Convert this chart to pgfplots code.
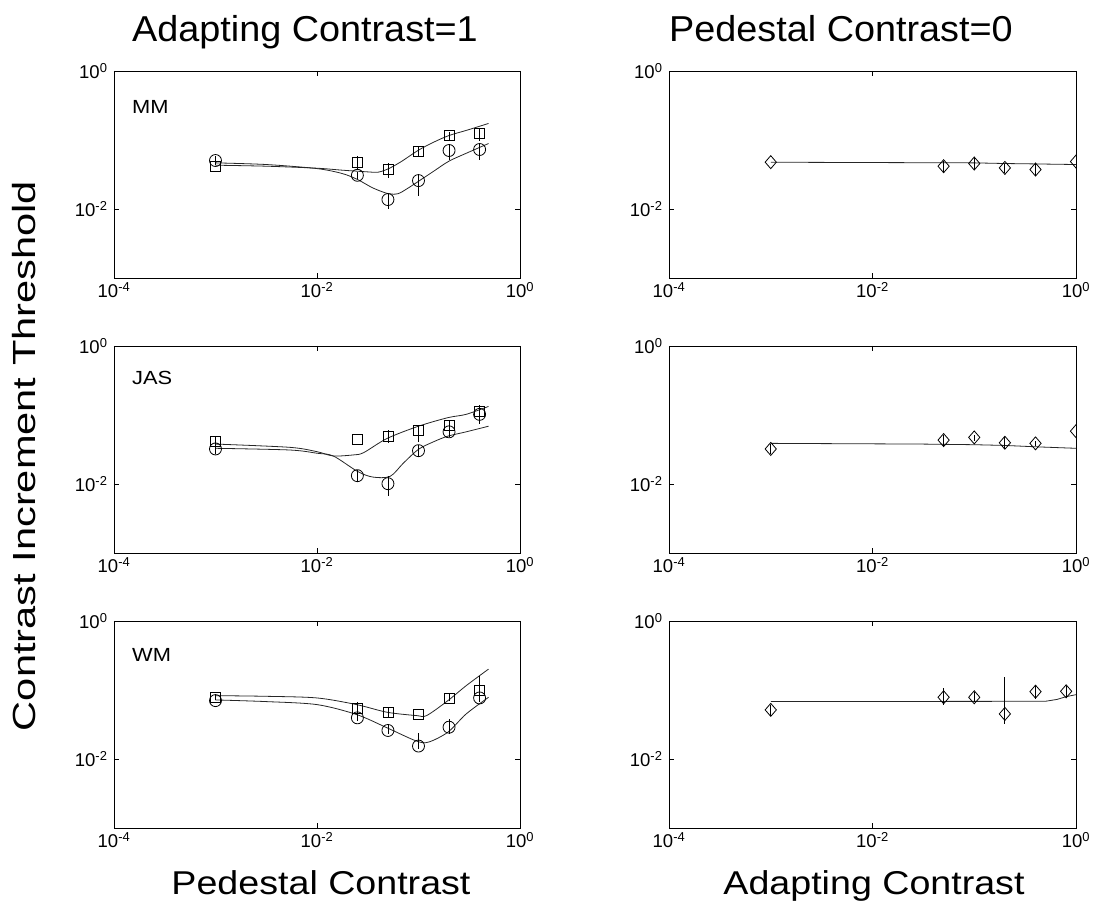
\documentclass[border=0pt]{standalone}
\usepackage{fontspec}
\setmainfont{Liberation Sans}
\usepackage{graphicx}
\usepackage{pgfplots}
\usepackage{pgfplotstable}
\pgfplotsset{compat=1.18}
\newcommand{\tlf}{\fontsize{18.5}{22}\selectfont}

% ---------- MM ----------
\pgfplotstableread{
x y lo hi
0.001 0.0417 0.0417 0.0417
0.025 0.0477 0.0373 0.0595
0.05 0.0381 0.0282 0.0466
0.1 0.0673 0.0569 0.0813
0.2 0.116 0.0995 0.130
0.4 0.124 0.0962 0.1453
}\MMsq
\pgfplotstableread{
x y lo hi
0.001 0.0504 0.0441 0.0582
0.025 0.0308 0.0275 0.0345
0.05 0.0137 0.0101 0.0167
0.1 0.0258 0.0153 0.0315
0.2 0.0704 0.0521 0.0860
0.4 0.0728 0.0509 0.0910
}\MMci
\pgfplotstableread{
x y
0.001 0.0431
0.003162 0.0417
0.01 0.0390
0.01778 0.0365
0.03162 0.0345
0.03981 0.0341
0.05012 0.0381
0.06607 0.0476
0.1 0.0712
0.1413 0.0930
0.1995 0.116
0.302 0.139
0.49 0.1737
}\MMsqfit
\pgfplotstableread{
x y
0.001 0.0466
0.003162 0.0441
0.01 0.0385
0.01778 0.0326
0.02512 0.0267
0.03548 0.0202
0.05012 0.0167
0.0631 0.0167
0.07943 0.0202
0.1 0.0252
0.1413 0.0353
0.1995 0.0493
0.302 0.0651
0.49 0.0889
}\MMcifit
% ---------- JAS ----------
\pgfplotstableread{
x y lo hi
0.001 0.0410 0.038 0.048
0.025 0.0443 0.0443 0.0443
0.05 0.0494 0.0388 0.0602
0.1 0.0589 0.0410 0.0711
0.2 0.0711 0.0602 0.0820
0.4 0.1129 0.0857 0.1376
}\JASsq
\pgfplotstableread{
x y lo hi
0.001 0.0322 0.0273 0.0379
0.025 0.0132 0.0109 0.0157
0.05 0.0101 0.00665 0.0129
0.1 0.0304 0.0249 0.0367
0.2 0.0570 0.0483 0.0711
0.4 0.1022 0.0735 0.1331
}\JASci
\pgfplotstableread{
x y
0.001 0.0379
0.00537 0.0340
0.01 0.0294
0.01445 0.0255
0.02291 0.0264
0.02884 0.0285
0.0490 0.0457
0.1 0.0688
0.195 0.0915
0.295 0.1022
0.49 0.1331
}\JASsqfit
\pgfplotstableread{
x y
0.001 0.0329
0.00537 0.0311
0.01 0.0279
0.01445 0.0255
0.0251 0.0152
0.03548 0.0126
0.0525 0.0129
0.0708 0.0200
0.1 0.0318
0.1413 0.0410
0.195 0.0494
0.295 0.0570
0.49 0.0688
}\JAScifit
% ---------- WM ----------
\pgfplotstableread{
x y lo hi
0.001 0.0784 0.0718 0.0876
0.025 0.0550 0.0441 0.0664
0.05 0.0466 0.0395 0.0562
0.1 0.0441 0.0441 0.0441
0.2 0.0767 0.0686 0.0876
0.4 0.1000 0.0828 0.161
}\WMsq
\pgfplotstableread{
x y lo hi
0.001 0.0702 0.0702 0.0702
0.025 0.0395 0.0361 0.0476
0.05 0.0259 0.0227 0.0316
0.1 0.0154 0.0141 0.0237
0.2 0.0289 0.0227 0.0382
0.4 0.0767 0.0664 0.0957
}\WMci
\pgfplotstableread{
x y
0.001 0.0828
0.003162 0.0810
0.01 0.0767
0.02455 0.0614
0.0490 0.0476
0.0955 0.0426
0.1202 0.0426
0.195 0.0702
0.295 0.1155
0.49 0.2009
}\WMsqfit
\pgfplotstableread{
x y
0.001 0.0718
0.003162 0.0679
0.01 0.0614
0.02455 0.0441
0.0490 0.0283
0.0955 0.0182
0.1259 0.0176
0.195 0.0245
0.295 0.0450
0.49 0.0784
}\WMcifit
% ---------- right column ----------
\pgfplotstableread{
x y lo hi
0.001 0.0477 0.0477 0.0477
0.05 0.0417 0.0333 0.0493
0.1 0.0456 0.0385 0.0551
0.2 0.0394 0.0333 0.0456
0.4 0.0373 0.0305 0.0466
1.0 0.0487 0.0487 0.0487
}\MMad
\pgfplotstableread{
x y
0.001 0.0476
0.1 0.0466
0.2 0.0456
0.35 0.0451
1 0.0441
}\MMadfit
\pgfplotstableread{
x y lo hi
0.001 0.0322 0.0273 0.0379
0.05 0.0433 0.0355 0.0511
0.1 0.0473 0.0420 0.0520
0.2 0.0396 0.0318 0.0483
0.4 0.0388 0.0355 0.0420
1.0 0.0583 0.0583 0.0583
}\JASad
\pgfplotstableread{
x y
0.001 0.0388
0.03 0.0379
0.1 0.0371
0.2 0.0362
0.4 0.0346
1 0.0329
}\JASadfit
\pgfplotstableread{
x y lo hi
0.001 0.0515 0.0426 0.0614
0.05 0.0784 0.0614 0.1069
0.1 0.0784 0.0664 0.0925
0.2 0.0450 0.0323 0.1557
0.4 0.0946 0.0742 0.1155
0.8 0.0957 0.0767 0.1155
}\WMad
\pgfplotstableread{
x y
0.001 0.0679
0.5 0.0686
0.65 0.0730
0.8 0.0800
1 0.0856
}\WMadfit

\pgfplotsset{
    scale only axis, height=207pt,
    xmin=1e-4, xmax=1, ymin=1e-3, ymax=1,
    /pgf/number format/assume math mode=true,
    xtick={1e-4,1e-2,1},
    xticklabels={{\tlf 10\textsuperscript{-4}},{\tlf 10\textsuperscript{-2}},{\tlf 10\textsuperscript{0}}},
    ytick={1e-2,1},
    yticklabels={{\tlf 10\textsuperscript{-2}},{\tlf 10\textsuperscript{0}}},
    xminorticks=false, yminorticks=false,
    tick align=inside, major tick length=5pt,
    tick style={black, line width=0.8pt},
    axis line style={line width=0.9pt},
    xticklabel style={yshift=-1pt},
    yticklabel style={xshift=-3pt},
    clip marker paths=true,
    error bars/y dir=both, error bars/y explicit, error bars/error mark=none,
    error bars/error bar style={line width=0.8pt, black},
}

\begin{document}
\begin{tikzpicture}
% ---- left column ----
\begin{loglogaxis}[width=406pt, at={(114pt,626pt)}, anchor=south west]
\addplot[black!85, line width=0.8pt, no marks, smooth] table {\MMsqfit};
\addplot[black!85, line width=0.8pt, no marks, smooth] table {\MMcifit};
\addplot[only marks, black, mark=square, mark size=5pt, mark options={solid, fill=none, line width=0.8pt}] table[x=x, y=y, y error plus expr=\thisrow{hi}-\thisrow{y}, y error minus expr=\thisrow{y}-\thisrow{lo}] {\MMsq};
\addplot[only marks, black, mark=o, mark size=6pt, mark options={solid, fill=none, line width=0.8pt}] table[x=x, y=y, y error plus expr=\thisrow{hi}-\thisrow{y}, y error minus expr=\thisrow{y}-\thisrow{lo}] {\MMci};
\end{loglogaxis}
\begin{loglogaxis}[width=406pt, at={(114pt,351pt)}, anchor=south west]
\addplot[black!85, line width=0.8pt, no marks, smooth] table {\JASsqfit};
\addplot[black!85, line width=0.8pt, no marks, smooth] table {\JAScifit};
\addplot[only marks, black, mark=square, mark size=5pt, mark options={solid, fill=none, line width=0.8pt}] table[x=x, y=y, y error plus expr=\thisrow{hi}-\thisrow{y}, y error minus expr=\thisrow{y}-\thisrow{lo}] {\JASsq};
\addplot[only marks, black, mark=o, mark size=6pt, mark options={solid, fill=none, line width=0.8pt}] table[x=x, y=y, y error plus expr=\thisrow{hi}-\thisrow{y}, y error minus expr=\thisrow{y}-\thisrow{lo}] {\JASci};
\end{loglogaxis}
\begin{loglogaxis}[width=406pt, at={(114pt,76pt)}, anchor=south west]
\addplot[black!85, line width=0.8pt, no marks, smooth] table {\WMsqfit};
\addplot[black!85, line width=0.8pt, no marks, smooth] table {\WMcifit};
\addplot[only marks, black, mark=square, mark size=5pt, mark options={solid, fill=none, line width=0.8pt}] table[x=x, y=y, y error plus expr=\thisrow{hi}-\thisrow{y}, y error minus expr=\thisrow{y}-\thisrow{lo}] {\WMsq};
\addplot[only marks, black, mark=o, mark size=6pt, mark options={solid, fill=none, line width=0.8pt}] table[x=x, y=y, y error plus expr=\thisrow{hi}-\thisrow{y}, y error minus expr=\thisrow{y}-\thisrow{lo}] {\WMci};
\end{loglogaxis}
% ---- right column ----
\begin{loglogaxis}[width=407pt, at={(669pt,626pt)}, anchor=south west]
\addplot[black!85, line width=0.8pt, no marks] table {\MMadfit};
\addplot[only marks, black, mark=diamond, mark size=6.5pt, mark options={solid, fill=none, line width=0.8pt, xscale=1.15}] table[x=x, y=y, y error plus expr=\thisrow{hi}-\thisrow{y}, y error minus expr=\thisrow{y}-\thisrow{lo}] {\MMad};
\end{loglogaxis}
\begin{loglogaxis}[width=407pt, at={(669pt,351pt)}, anchor=south west]
\addplot[black!85, line width=0.8pt, no marks] table {\JASadfit};
\addplot[only marks, black, mark=diamond, mark size=6.5pt, mark options={solid, fill=none, line width=0.8pt, xscale=1.15}] table[x=x, y=y, y error plus expr=\thisrow{hi}-\thisrow{y}, y error minus expr=\thisrow{y}-\thisrow{lo}] {\JASad};
\end{loglogaxis}
\begin{loglogaxis}[width=407pt, at={(669pt,76pt)}, anchor=south west]
\addplot[black!85, line width=0.8pt, no marks] table {\WMadfit};
\addplot[only marks, black, mark=diamond, mark size=6.5pt, mark options={solid, fill=none, line width=0.8pt, xscale=1.15}] table[x=x, y=y, y error plus expr=\thisrow{hi}-\thisrow{y}, y error minus expr=\thisrow{y}-\thisrow{lo}] {\WMad};
\end{loglogaxis}
% ---- texts ----
\node[anchor=base, inner sep=0pt] at (305pt,862pt) {\scalebox{1.05}[1]{\fontsize{36}{43}\selectfont Adapting Contrast=1}};
\node[anchor=base, inner sep=0pt] at (841pt,862pt) {\scalebox{1.05}[1]{\fontsize{36}{43}\selectfont Pedestal Contrast=0}};
\node[anchor=base, inner sep=0pt] at (321pt,9pt) {\scalebox{1.14}[1]{\fontsize{33}{40}\selectfont Pedestal Contrast}};
\node[anchor=base, inner sep=0pt] at (874pt,9pt) {\scalebox{1.14}[1]{\fontsize{33}{40}\selectfont Adapting Contrast}};
\node[rotate=90, inner sep=0pt] at (24pt,448pt) {\scalebox{1.3}[1]{\fontsize{32}{38}\selectfont Contrast Increment Threshold}};
\node[anchor=west, inner sep=0pt] at (132pt,797pt) {\scalebox{1.15}[1]{\fontsize{19}{23}\selectfont MM}};
\node[anchor=west, inner sep=0pt] at (132pt,526pt) {\scalebox{1.15}[1]{\fontsize{19}{23}\selectfont JAS}};
\node[anchor=west, inner sep=0pt] at (132pt,249pt) {\scalebox{1.15}[1]{\fontsize{19}{23}\selectfont WM}};
\pgfresetboundingbox
\path[use as bounding box] (0pt,0pt) rectangle (1093pt,904pt);
\end{tikzpicture}
\end{document}
